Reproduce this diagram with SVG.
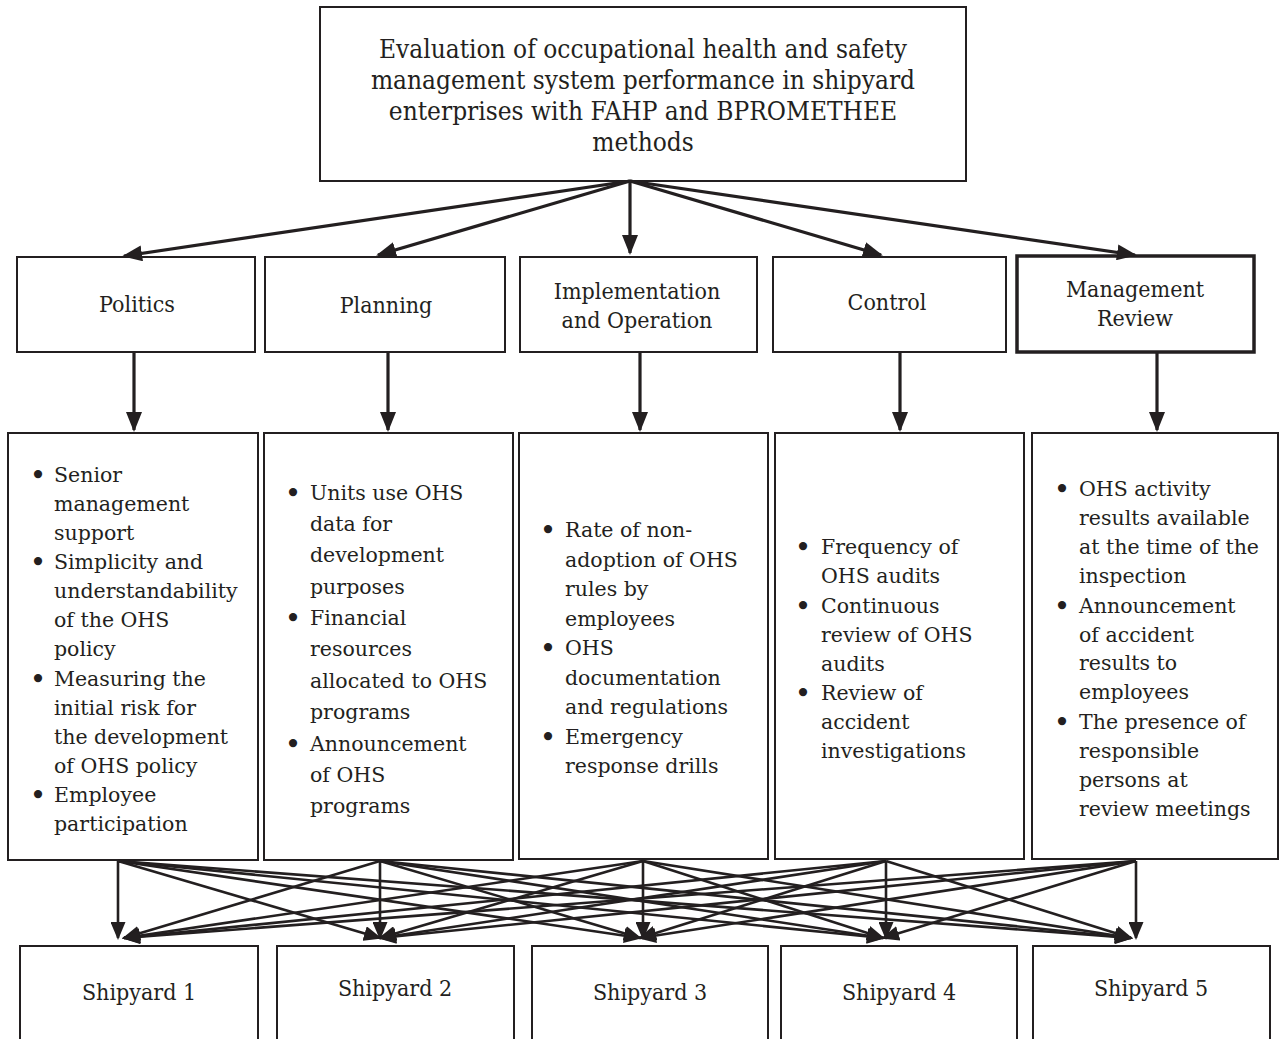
<svg xmlns="http://www.w3.org/2000/svg" width="1280" height="1039" viewBox="0 0 1280 1039">
<style>
  .box{fill:#fff;stroke:#231f20;stroke-width:2}
  .thick{stroke-width:3.5}
  .hd{font-family:"DejaVu Serif Condensed","DejaVu Serif",serif;font-stretch:condensed;fill:#231f20;text-anchor:middle}
  .bd{font-family:"DejaVu Serif",serif;font-size:20.5px;fill:#231f20}
  .bl{font-family:"DejaVu Serif",serif;font-size:28px;fill:#231f20;text-anchor:middle}
  .cn line{stroke:#231f20;stroke-width:3.2;fill:none;marker-end:url(#ah)}
  .fan line{stroke:#231f20;stroke-width:2.6;fill:none;marker-end:url(#ah2)}
</style>
<defs>
  <marker id="ah" viewBox="0 0 20 16" refX="18" refY="8" markerWidth="20" markerHeight="16" markerUnits="userSpaceOnUse" orient="auto">
    <path d="M0,0 L20,8 L0,16 z" fill="#231f20"/>
  </marker>
  <marker id="ah2" viewBox="0 0 18 15" refX="16" refY="7.5" markerWidth="18" markerHeight="15" markerUnits="userSpaceOnUse" orient="auto">
    <path d="M0,0 L18,7.5 L0,15 z" fill="#231f20"/>
  </marker>
</defs>
<rect width="1280" height="1039" fill="#fff"/>

<g id="goal">
  <rect class="box" x="320" y="7" width="646" height="174"/>
  <text class="hd" font-size="26" x="643" y="58">Evaluation of occupational health and safety</text>
  <text class="hd" font-size="26" x="643" y="89">management system performance in shipyard</text>
  <text class="hd" font-size="26" x="643" y="120">enterprises with FAHP and BPROMETHEE</text>
  <text class="hd" font-size="26" x="643" y="151">methods</text>
</g>

<g id="politics">
  <rect class="box" x="17" y="257" width="238" height="95"/>
  <text class="hd" font-size="23" x="137" y="312">Politics</text>
</g>
<g id="planning">
  <rect class="box" x="265" y="257" width="240" height="95"/>
  <text class="hd" font-size="23" x="386" y="313">Planning</text>
</g>
<g id="implementation">
  <rect class="box" x="520" y="257" width="237" height="95"/>
  <text class="hd" font-size="23" x="637" y="299">Implementation</text>
  <text class="hd" font-size="23" x="637" y="328">and Operation</text>
</g>
<g id="control">
  <rect class="box" x="773" y="257" width="233" height="95"/>
  <text class="hd" font-size="23" x="887" y="310">Control</text>
</g>
<g id="management-review">
  <rect class="box thick" x="1017" y="256" width="237" height="96"/>
  <text class="hd" font-size="23" x="1135" y="297">Management</text>
  <text class="hd" font-size="23" x="1135" y="326">Review</text>
</g>

<g id="criteria-politics">
  <rect class="box" x="8" y="433" width="250" height="427"/>
  <text class="bl" x="38" y="485">•</text>
  <text class="bl" x="38" y="572">•</text>
  <text class="bl" x="38" y="689">•</text>
  <text class="bl" x="38" y="805">•</text>
  <text class="bd">
    <tspan x="54" y="482">Senior</tspan>
    <tspan x="54" y="511">management</tspan>
    <tspan x="54" y="540">support</tspan>
    <tspan x="54" y="569">Simplicity and</tspan>
    <tspan x="54" y="598">understandability</tspan>
    <tspan x="54" y="627">of the OHS</tspan>
    <tspan x="54" y="656">policy</tspan>
    <tspan x="54" y="686">Measuring the</tspan>
    <tspan x="54" y="715">initial risk for</tspan>
    <tspan x="54" y="744">the development</tspan>
    <tspan x="54" y="773">of OHS policy</tspan>
    <tspan x="54" y="802">Employee</tspan>
    <tspan x="54" y="831">participation</tspan>
  </text>
</g>

<g id="criteria-planning">
  <rect class="box" x="264" y="433" width="249" height="427"/>
  <text class="bl" x="293" y="503">•</text>
  <text class="bl" x="293" y="628">•</text>
  <text class="bl" x="293" y="754">•</text>
  <text class="bd">
    <tspan x="310" y="500">Units use OHS</tspan>
    <tspan x="310" y="531">data for</tspan>
    <tspan x="310" y="562">development</tspan>
    <tspan x="310" y="594">purposes</tspan>
    <tspan x="310" y="625">Financial</tspan>
    <tspan x="310" y="656">resources</tspan>
    <tspan x="310" y="688">allocated to OHS</tspan>
    <tspan x="310" y="719">programs</tspan>
    <tspan x="310" y="751">Announcement</tspan>
    <tspan x="310" y="782">of OHS</tspan>
    <tspan x="310" y="813">programs</tspan>
  </text>
</g>

<g id="criteria-implementation">
  <rect class="box" x="519" y="433" width="249" height="426"/>
  <text class="bl" x="548" y="540">•</text>
  <text class="bl" x="548" y="658">•</text>
  <text class="bl" x="548" y="747">•</text>
  <text class="bd">
    <tspan x="565" y="537">Rate of non-</tspan>
    <tspan x="565" y="567">adoption of OHS</tspan>
    <tspan x="565" y="596">rules by</tspan>
    <tspan x="565" y="626">employees</tspan>
    <tspan x="565" y="655">OHS</tspan>
    <tspan x="565" y="685">documentation</tspan>
    <tspan x="565" y="714">and regulations</tspan>
    <tspan x="565" y="744">Emergency</tspan>
    <tspan x="565" y="773">response drills</tspan>
  </text>
</g>

<g id="criteria-control">
  <rect class="box" x="775" y="433" width="249" height="426"/>
  <text class="bl" x="803" y="557">•</text>
  <text class="bl" x="803" y="616">•</text>
  <text class="bl" x="803" y="703">•</text>
  <text class="bd">
    <tspan x="821" y="554">Frequency of</tspan>
    <tspan x="821" y="583">OHS audits</tspan>
    <tspan x="821" y="613">Continuous</tspan>
    <tspan x="821" y="642">review of OHS</tspan>
    <tspan x="821" y="671">audits</tspan>
    <tspan x="821" y="700">Review of</tspan>
    <tspan x="821" y="729">accident</tspan>
    <tspan x="821" y="758">investigations</tspan>
  </text>
</g>

<g id="criteria-management-review">
  <rect class="box" x="1032" y="433" width="246" height="426"/>
  <text class="bl" x="1062" y="499">•</text>
  <text class="bl" x="1062" y="616">•</text>
  <text class="bl" x="1062" y="732">•</text>
  <text class="bd">
    <tspan x="1079" y="496">OHS activity</tspan>
    <tspan x="1079" y="525">results available</tspan>
    <tspan x="1079" y="554">at the time of the</tspan>
    <tspan x="1079" y="583">inspection</tspan>
    <tspan x="1079" y="613">Announcement</tspan>
    <tspan x="1079" y="642">of accident</tspan>
    <tspan x="1079" y="670">results to</tspan>
    <tspan x="1079" y="699">employees</tspan>
    <tspan x="1079" y="729">The presence of</tspan>
    <tspan x="1079" y="758">responsible</tspan>
    <tspan x="1079" y="787">persons at</tspan>
    <tspan x="1079" y="816">review meetings</tspan>
  </text>
</g>

<g id="shipyard-1">
  <rect class="box" x="20" y="946" width="238" height="100"/>
  <text class="hd" font-size="23" x="139" y="1000">Shipyard 1</text>
</g>
<g id="shipyard-2">
  <rect class="box" x="277" y="946" width="237" height="100"/>
  <text class="hd" font-size="23" x="395" y="996">Shipyard 2</text>
</g>
<g id="shipyard-3">
  <rect class="box" x="532" y="946" width="236" height="100"/>
  <text class="hd" font-size="23" x="650" y="1000">Shipyard 3</text>
</g>
<g id="shipyard-4">
  <rect class="box" x="781" y="946" width="236" height="100"/>
  <text class="hd" font-size="23" x="899" y="1000">Shipyard 4</text>
</g>
<g id="shipyard-5">
  <rect class="box" x="1033" y="946" width="237" height="100"/>
  <text class="hd" font-size="23" x="1151" y="996">Shipyard 5</text>
</g>

<g id="connectors">
  <g class="cn">
    <line x1="630" y1="181" x2="124" y2="256"/>
    <line x1="630" y1="181" x2="378" y2="255"/>
    <line x1="630" y1="181" x2="630" y2="253"/>
    <line x1="630" y1="181" x2="881" y2="255"/>
    <line x1="630" y1="181" x2="1135" y2="255"/>
    <line x1="134" y1="353" x2="134" y2="430"/>
    <line x1="388" y1="353" x2="388" y2="430"/>
    <line x1="640" y1="353" x2="640" y2="430"/>
    <line x1="900" y1="353" x2="900" y2="430"/>
    <line x1="1157" y1="353" x2="1157" y2="430"/>
  </g>
  <g class="fan">
    <line x1="118" y1="861" x2="118" y2="938"/>
    <line x1="118" y1="861" x2="380" y2="938"/>
    <line x1="118" y1="861" x2="640" y2="938"/>
    <line x1="118" y1="861" x2="883" y2="938"/>
    <line x1="118" y1="861" x2="1131" y2="938"/>
    <line x1="380" y1="861" x2="124" y2="938"/>
    <line x1="380" y1="861" x2="380" y2="938"/>
    <line x1="380" y1="861" x2="640" y2="938"/>
    <line x1="380" y1="861" x2="883" y2="938"/>
    <line x1="380" y1="861" x2="1131" y2="938"/>
    <line x1="643" y1="861" x2="124" y2="938"/>
    <line x1="643" y1="861" x2="380" y2="938"/>
    <line x1="643" y1="861" x2="643" y2="938"/>
    <line x1="643" y1="861" x2="883" y2="938"/>
    <line x1="643" y1="861" x2="1131" y2="938"/>
    <line x1="886" y1="861" x2="124" y2="938"/>
    <line x1="886" y1="861" x2="380" y2="938"/>
    <line x1="886" y1="861" x2="640" y2="938"/>
    <line x1="886" y1="861" x2="886" y2="938"/>
    <line x1="886" y1="861" x2="1131" y2="938"/>
    <line x1="1136" y1="861" x2="124" y2="938"/>
    <line x1="1136" y1="861" x2="380" y2="938"/>
    <line x1="1136" y1="861" x2="640" y2="938"/>
    <line x1="1136" y1="861" x2="883" y2="938"/>
    <line x1="1136" y1="861" x2="1136" y2="938"/>
  </g>
</g>
</svg>
